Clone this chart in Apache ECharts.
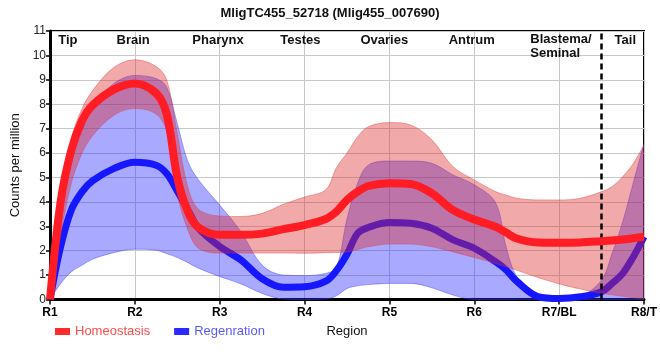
<!DOCTYPE html>
<html><head><meta charset="utf-8">
<script src="https://cdn.jsdelivr.net/npm/echarts@6/dist/echarts.min.js"></script>
<style>html,body{margin:0;padding:0;background:#fff}#c{width:660px;height:360px}</style>
</head><body><div id="c"></div>
<script>
// Region positions (1 = R1 ... 8 = R8/T)
const xs        = [1, 1.125, 1.25, 1.375, 1.5, 1.75, 2, 2.25, 2.375, 2.5, 2.625, 2.75, 3, 3.25, 3.5, 3.75, 4, 4.25, 4.375, 4.5, 4.625, 4.75, 5, 5.25, 5.5, 5.75, 6, 6.25, 6.375, 6.5, 6.75, 7, 7.25, 7.5, 7.625, 7.75, 7.875, 8];
const homeMean  = [0, 4.0, 6.1, 7.3, 7.95, 8.6, 8.85, 8.45, 7.6, 5.0, 3.6, 2.95, 2.65, 2.65, 2.7, 2.88, 3.05, 3.3, 3.6, 4.08, 4.42, 4.65, 4.76, 4.73, 4.35, 3.66, 3.28, 2.98, 2.74, 2.5, 2.34, 2.33, 2.34, 2.39, 2.42, 2.46, 2.51, 2.57];
const homeUpper = [0.4, 4.5, 6.6, 7.8, 8.55, 9.5, 9.82, 9.55, 9.0, 6.8, 4.6, 3.7, 3.42, 3.4, 3.53, 3.9, 4.2, 4.5, 5.4, 6.0, 6.67, 7.08, 7.25, 7.15, 6.54, 5.44, 4.9, 4.42, 4.28, 4.15, 4.08, 4.08, 4.15, 4.42, 4.63, 5.04, 5.58, 6.33];
const homeLower = [0, 2.6, 4.75, 5.97, 6.7, 7.54, 7.82, 7.6, 6.9, 4.3, 2.85, 2.1, 1.9, 1.9, 1.9, 1.9, 1.89, 1.92, 1.93, 1.95, 2.05, 2.16, 2.27, 2.27, 2.16, 1.95, 1.72, 1.48, 1.34, 1.2, 0.9, 0.64, 0.43, 0.26, 0.19, 0.13, 0.07, 0.03];
const regMean   = [0, 2.16, 3.66, 4.4, 4.86, 5.36, 5.62, 5.5, 5.16, 4.45, 3.67, 2.92, 2.17, 1.62, 0.85, 0.5, 0.52, 0.75, 1.18, 1.85, 2.71, 2.95, 3.15, 3.12, 2.92, 2.44, 2.1, 1.55, 1.21, 0.75, 0.12, 0.04, 0.11, 0.32, 0.66, 1.07, 1.75, 2.57];
const regUpper  = [0.3, 3.5, 5.6, 6.9, 7.9, 8.84, 9.18, 9.05, 8.7, 7.2, 5.65, 4.9, 3.87, 2.78, 1.41, 1.0, 0.98, 1.07, 1.3, 3.3, 4.76, 5.5, 5.67, 5.67, 5.58, 5.1, 4.7, 3.97, 2.16, 0.95, 0.15, 0.08, 0.15, 0.8, 1.9, 3.2, 4.8, 6.4];
const regLower  = [0, 0.65, 1.13, 1.4, 1.65, 1.92, 2.06, 2.02, 1.88, 1.72, 1.51, 1.28, 0.94, 0.64, 0.25, 0.02, 0, 0.02, 0.15, 0.45, 0.56, 0.61, 0.66, 0.66, 0.48, 0.18, 0, 0, 0, 0, 0, 0, 0, 0, 0, 0, 0, 0];
const tickLabels = ['R1', 'R2', 'R3', 'R4', 'R5', 'R6', 'R7/BL', 'R8/T'];
const regionNames = ['Tip', 'Brain', 'Pharynx', 'Testes', 'Ovaries', 'Antrum', 'Blastema/\nSeminal', 'Tail'];
const regionNameX = [1.21, 1.98, 2.98, 3.95, 4.94, 5.97, 6.66, 7.78];
const dividerX = 7.5;

const FONT = 'Liberation Sans, Arial, sans-serif';
// rows as [value, x] so the stacked dimension is the y value
const rowsYX = vals => vals.map((v, i) => [v, xs[i]]);
const diff = (a, b) => a.map((v, i) => v - b[i]);
const pts = vals => vals.map((v, i) => [xs[i], v]);

function band(stack, lower, upper, fill, edge, z) {
  return [
    { type: 'line', stack: stack, data: rowsYX(lower), encode: { x: 1, y: 0 }, smooth: 0.35,
      symbol: 'none', lineStyle: { width: 0.8, color: edge }, z: z, silent: true },
    { type: 'line', stack: stack, data: rowsYX(diff(upper, lower)), encode: { x: 1, y: 0 }, smooth: 0.35,
      symbol: 'none', lineStyle: { width: 0.8, color: edge }, areaStyle: { color: fill, opacity: 1 }, z: z, silent: true }
  ];
}

const chart = echarts.init(document.getElementById('c'), null, { renderer: 'canvas' });
chart.setOption({
  animation: false,
  textStyle: { fontFamily: FONT },
  title: { text: 'MligTC455_52718 (Mlig455_007690)', left: 'center', top: 2,
    textStyle: { fontSize: 13, fontWeight: 'bold', color: '#111', fontFamily: FONT } },
  grid: { left: 50, right: 10, top: 31, bottom: 60.5, show: true, borderColor: '#000', borderWidth: 2, containLabel: false },
  legend: {
    left: 55, top: 325, padding: 0, icon: 'rect', itemWidth: 15, itemHeight: 7, itemGap: 24,
    textStyle: { fontSize: 13, fontFamily: FONT },
    data: [
      { name: 'Homeostasis', itemStyle: { color: '#ff2a2a' }, textStyle: { color: '#ff4a4a' } },
      { name: 'Regenration', itemStyle: { color: '#2a2aff' }, textStyle: { color: '#5a5aff' } }
    ]
  },
  xAxis: {
    type: 'value', min: 1, max: 8, interval: 1,
    name: 'Region', nameLocation: 'middle', nameGap: 25,
    nameTextStyle: { fontSize: 13, color: '#111', fontFamily: FONT },
    axisLine: { lineStyle: { color: '#000', width: 3 } },
    axisTick: { show: true, length: 5, lineStyle: { color: '#000', width: 1.5 } },
    axisLabel: { color: '#000', fontWeight: 'bold', fontSize: 12, margin: 7,
      formatter: v => tickLabels[Math.round(v) - 1] || '' },
    splitLine: { show: true, lineStyle: { color: '#c8c8c8', width: 1 } }
  },
  yAxis: {
    type: 'value', min: 0, max: 11, interval: 1,
    name: 'Counts per million', nameLocation: 'middle', nameGap: 25,
    nameTextStyle: { fontSize: 13, color: '#111', fontFamily: FONT },
    axisLine: { show: true, lineStyle: { color: '#000', width: 3 } },
    axisTick: { show: true, length: 4, lineStyle: { color: '#000', width: 1.5 } },
    axisLabel: { color: '#222', fontSize: 12, margin: 4 },
    splitLine: { show: true, lineStyle: { color: '#c8c8c8', width: 1 } }
  },
  series: [
    ...band('reg', regLower, regUpper, 'rgba(40,40,255,0.4)', 'rgba(60,60,255,0.55)', 2),
    { name: 'Regenration', type: 'line', data: pts(regMean), smooth: 0.35, symbol: 'none',
      lineStyle: { width: 7, color: '#1717ff' }, itemStyle: { color: '#2a2aff' }, z: 3 },
    ...band('home', homeLower, homeUpper, 'rgba(220,40,40,0.4)', 'rgba(220,60,60,0.5)', 4),
    { name: 'Homeostasis', type: 'line', data: pts(homeMean), smooth: 0.35, symbol: 'none',
      lineStyle: { width: 8, color: '#ff1c24' }, itemStyle: { color: '#ff2a2a' }, z: 5,
      markLine: { silent: true, symbol: 'none', label: { show: false },
        lineStyle: { color: '#000', type: [6, 4], width: 2.5 },
        data: [{ xAxis: dividerX }] },
      markPoint: { silent: true, symbol: 'circle', symbolSize: 0,
        label: { show: true, position: 'inside', color: '#111', fontWeight: 'bold', fontSize: 13,
          fontFamily: FONT, lineHeight: 14, formatter: p => p.name },
        data: regionNames.map((n, i) => ({ name: n, coord: [regionNameX[i], n.indexOf('\n') >= 0 ? 10.35 : 10.6],
          label: n.indexOf('\n') >= 0 ? { align: 'left' } : {} })) } }
  ]
});
</script></body></html>
